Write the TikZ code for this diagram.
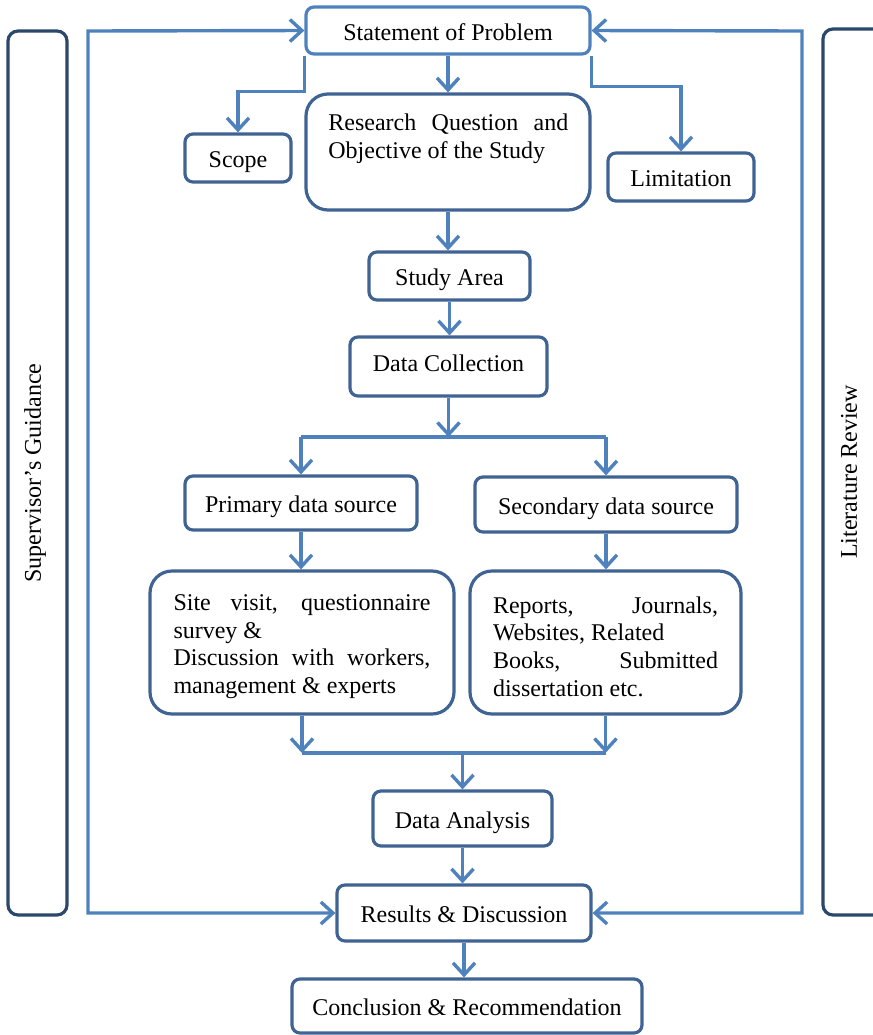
\documentclass[tikz,border=0pt]{standalone}
\usepackage{fontspec}
\setmainfont{Liberation Serif}
\usetikzlibrary{arrows.meta}
\definecolor{ablue}{HTML}{4F81BD}
\definecolor{bblue}{HTML}{3F6393}
\definecolor{navy}{HTML}{2B4769}
\tikzset{
  txt/.style={font=\fontsize{12pt}{13.8pt}\selectfont},
  box/.style={draw=bblue, line width=1.6pt, rounded corners=4pt, fill=white, inner sep=0pt, txt, text height=9.5pt, text depth=0pt},
  bigbox/.style={draw=bblue, line width=1.6pt, rounded corners=11pt, fill=white, inner sep=0pt},
  sidebox/.style={draw=navy, line width=1.6pt, rounded corners=5pt, inner sep=0pt},
  tip/.tip={Straight Barb[length=6pt,width=11pt]},
  arr/.style={draw=ablue, line width=1.7pt, -tip},
  arrboth/.style={draw=ablue, line width=1.7pt, tip-tip},
  plain/.style={draw=ablue, line width=1.7pt},
}
\begin{document}
\begin{tikzpicture}[x=0.5pt, y=-0.5pt]
\useasboundingbox (0,0) rectangle (873,1035);
% side boxes
\node[sidebox, minimum width=29.5pt, minimum height=442pt] (sup) at (37.5,473) {};
\node[txt, rotate=90] (supt) at (35,473) {Supervisor’s Guidance};
\node[sidebox, minimum width=30pt, minimum height=443pt] (lit) at (853,472) {};
\node[txt, rotate=90] (litt) at (849,472) {Literature Review};
% main boxes
\node[box, draw=ablue, minimum width=142pt, minimum height=23.5pt] (stmt) at (448,30.5) {Statement of Problem};
\node[box, minimum width=53pt, minimum height=24pt] (scope) at (238,158) {Scope};
\node[bigbox, minimum width=142pt, minimum height=58pt] (rq) at (448,152) {};
\node[txt, font=\fontsize{12pt}{14pt}\selectfont, anchor=north west, inner sep=0pt, align=left] (rqt) at (328,113)
  {\makebox[120pt][s]{Research Question and}\\Objective of the Study};
\node[box, minimum width=73pt, minimum height=24pt] (lim) at (681,177) {Limitation};
\node[box, minimum width=80.5pt, minimum height=24pt] (study) at (449.5,276) {Study Area};
\node[box, minimum width=98.5pt, minimum height=29.5pt] (dc) at (448.5,366.5) {\raisebox{2.25pt}{Data Collection}};
\node[box, minimum width=116pt, minimum height=27pt] (prim) at (301,503) {Primary data source};
\node[box, minimum width=131pt, minimum height=27.5pt] (sec) at (606,504.5) {Secondary data source};
\node[bigbox, minimum width=152pt, minimum height=71.5pt] (site) at (302,642.5) {};
\node[txt, align=left, inner sep=0pt] (sitet) at ([yshift=-2pt]site.center)
  {\makebox[128.5pt][s]{Site visit, questionnaire}\\survey \&\\\makebox[128.5pt][s]{Discussion with workers,}\\management \& experts};
\node[bigbox, minimum width=135.5pt, minimum height=71.5pt] (rep) at (605.5,642.5) {};
\node[txt, align=left, inner sep=0pt] (rept) at ([yshift=-2pt]rep.center)
  {\makebox[112.5pt][s]{Reports, Journals,}\\Websites, Related\\\makebox[112.5pt][s]{Books, Submitted}\\dissertation etc.};
\node[box, minimum width=89.5pt, minimum height=27.5pt] (da) at (462.5,818.5) {Data Analysis};
\node[box, minimum width=127pt, minimum height=28pt] (res) at (464,913) {Results \& Discussion};
\node[box, minimum width=175pt, minimum height=27pt] (conc) at (467,1006) {Conclusion \& Recommendation};
% coordinates
\coordinate (lt) at (88,31);
\coordinate (lb) at (88,913);
\coordinate (rt) at (802,31);
\coordinate (rb) at (802,913);
\coordinate (sp) at (449,437);
\coordinate (jn) at (463,753);
% connectors
\draw[arrboth] (stmt.west) -- (lt) -- (lb) -- (res.west);
\draw[arrboth] (stmt.east) -- (rt) -- (rb) -- (res.east);
\draw[arr] (stmt.south west) -- ++(0,36) -| (scope.north);
\draw[arr] (stmt.south east) -- ++(0,31) -| (lim.north);
\draw[arr] (stmt.south) -- (rq.north);
\draw[arr] (rq.south) -- (rq.south |- study.north);
\draw[arr] (study.south) -- (study.south |- dc.north);
\draw[arr] (dc.south) -- (dc.south |- sp);
\draw[plain] (sp -| prim.north) -- (sp -| sec.north);
\draw[arr] (sp -| prim.north) -- (prim.north);
\draw[arr] (sp -| sec.north) -- (sec.north);
\draw[arr] (prim.south) -- (prim.south |- site.north);
\draw[arr] (sec.south) -- (sec.south |- rep.north);
\draw[plain] (site.south |- jn) -- (rep.south |- jn);
\draw[arr] (site.south) -- (site.south |- jn);
\draw[arr] (rep.south) -- (rep.south |- jn);
\draw[arr] (jn -| da.north) -- (da.north);
\draw[arr] (da.south) -- (da.south |- res.north);
\draw[arr] (res.south) -- (res.south |- conc.north);
\end{tikzpicture}
\end{document}
